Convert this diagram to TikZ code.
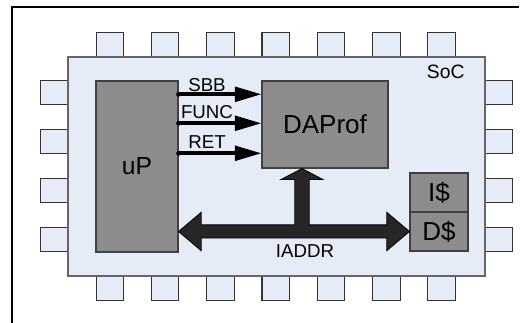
\documentclass[tikz,border=0pt]{standalone}
\usepackage{fontspec}
\setmainfont{Liberation Sans}
\usetikzlibrary{arrows.meta,calc}
\definecolor{pinblue}{RGB}{230,236,247}
\definecolor{blockgray}{RGB}{140,140,140}
\definecolor{busgray}{RGB}{38,38,38}

\begin{document}
\begin{tikzpicture}[x=.75pt,y=-.75pt,
  pin/.style={draw=black!80,fill=pinblue,line width=.8pt,minimum width=20.6pt,minimum height=18.4pt,inner sep=0pt},
  block/.style={draw=black!75,fill=blockgray,line width=.8pt,inner sep=0pt,font=\fontsize{19.5}{22}\selectfont},
  sig/.style={line width=2.7pt,-{Triangle[length=20pt,width=11pt]}},
  siglabel/.style={font=\fontsize{14}{16}\selectfont,anchor=base,inner sep=0pt},
  busarrow/.style={fill=busgray,draw=black,line width=.6pt,line join=miter}]
  \useasboundingbox (0,0) rectangle (531,323);
  % frame
  \draw[line width=1.5pt] (12,323) -- (12,7) -- (519,7);
  % pins round the chip
  \foreach \i in {0,...,6}{
    \node[pin] (ptop\i) at (109.8+55.3*\i,44.5) {};
    \node[pin] (pbot\i) at (109.8+55.3*\i,288) {};
  }
  \foreach \j in {0,...,3}{
    \node[pin] (pleft\j) at (54,92.7+48.9*\j) {};
    \node[pin] (pright\j) at (499,92.7+48.9*\j) {};
  }
  \node[draw=black!60,fill=pinblue,line width=.9pt,minimum width=312.75pt,minimum height=164.25pt,inner sep=0pt] (soc) at (276.5,166.5) {};
  \node[font=\fontsize{14.5}{16}\selectfont,anchor=base,inner sep=0pt] (soclabel) at (445.7,78.3) {SoC};
  % blocks
  \node[block,minimum width=61.5pt,minimum height=128.25pt,font=\fontsize{18.5}{21}\selectfont] (uP) at (137,166.5) {uP};
  \node[block,minimum width=94.5pt,minimum height=65.25pt] (dap) at (325,124.5) {DAProf};
  \node[block,minimum width=43.5pt,minimum height=29.25pt] (ic) at (439,192.5) {I\$};
  \node[block,minimum width=43.5pt,minimum height=29.25pt] (dc) at (439,231.5) {D\$};
  % profiling signals
  \foreach \y/\b/\name in {94.3/91.4/SBB,123.3/118.3/FUNC,153.3/148.3/RET}{
    \draw[sig] (uP.east |- 0,\y) -- (dap.west |- 0,\y);
    \fill (uP.east |- 0,\y) circle (1.8pt);
    \node[siglabel] (l\name) at (207,\b) {\name};
  }
  % address bus, one block arrow
  \coordinate (busjoin) at (302,231.5);
  \coordinate (busL) at (uP.east |- busjoin);
  \coordinate (busR) at (dc.west |- busjoin);
  \coordinate (vtip) at (dap.south -| busjoin);
  \filldraw[busarrow] (busL) -- ($(busL)+(22.7,-19.2)$) -- ($(busL)+(22.7,-6.6)$)
    -- ($(busjoin)+(-7.2,-6.6)$) -- ($(vtip)+(-7.2,11)$) -- ($(vtip)+(-21,11)$) -- (vtip)
    -- ($(vtip)+(21,11)$) -- ($(vtip)+(7.2,11)$) -- ($(busjoin)+(7.2,-6.6)$)
    -- ($(busR)+(-22.7,-6.6)$) -- ($(busR)+(-22.7,-19.2)$) -- (busR)
    -- ($(busR)+(-22.7,19.2)$) -- ($(busR)+(-22.7,6.6)$) -- ($(busL)+(22.7,6.6)$)
    -- ($(busL)+(22.7,19.2)$) -- cycle;
  \node[siglabel] (liaddr) at (305,258) {IADDR};
\end{tikzpicture}
\end{document}
